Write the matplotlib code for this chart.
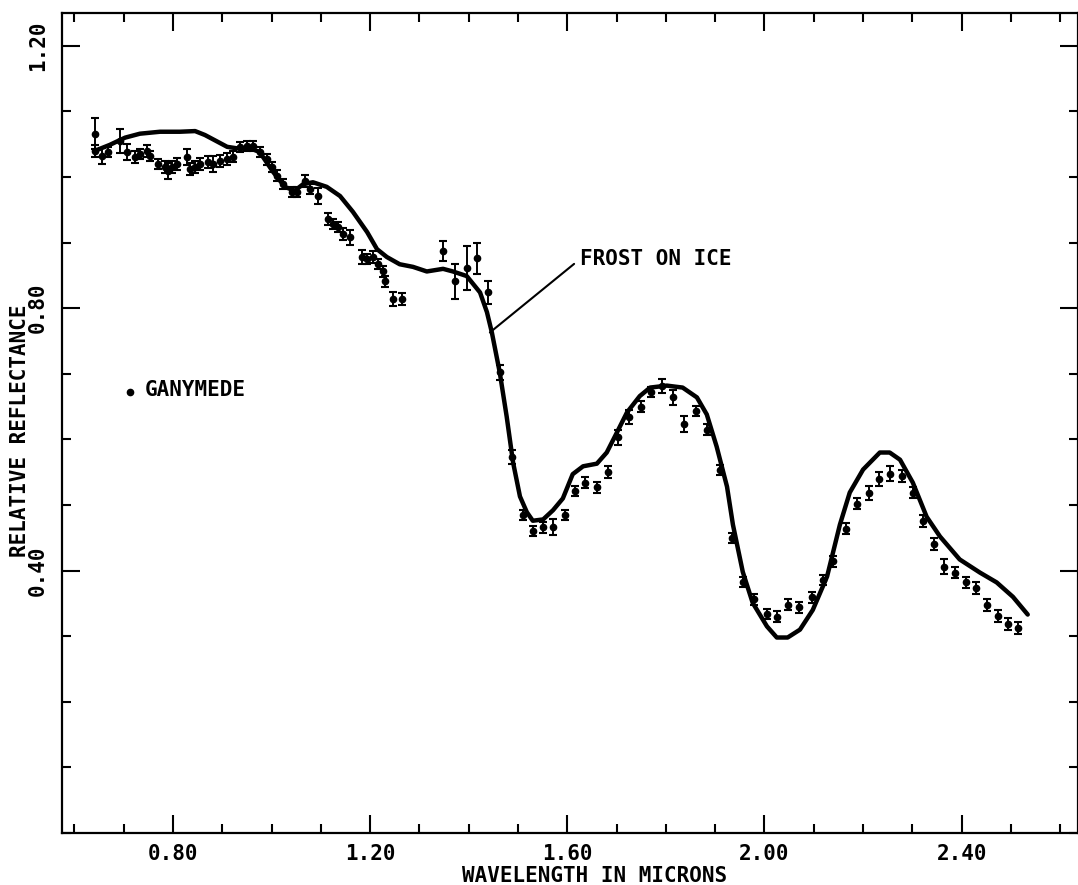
import matplotlib
matplotlib.use("Agg")
import matplotlib.pyplot as plt
from matplotlib.ticker import MultipleLocator, FormatStrFormatter

# ---- Data ----
# Laboratory curve: frost on ice
frost_wl = [0.642, 0.672, 0.703, 0.733, 0.774, 0.814, 0.845, 0.865, 0.885, 0.910,
            0.936, 0.956, 0.976, 1.003, 1.027, 1.047, 1.064, 1.084, 1.112, 1.139,
            1.165, 1.194, 1.214, 1.234, 1.260, 1.287, 1.315, 1.348, 1.368, 1.396,
            1.423, 1.437, 1.447, 1.463, 1.477, 1.490, 1.504, 1.518, 1.530, 1.551,
            1.571, 1.591, 1.611, 1.632, 1.660, 1.680, 1.701, 1.721, 1.747, 1.768,
            1.802, 1.834, 1.863, 1.883, 1.903, 1.924, 1.936, 1.956, 1.976, 2.005,
            2.025, 2.047, 2.072, 2.098, 2.127, 2.153, 2.173, 2.200, 2.234, 2.254,
            2.275, 2.301, 2.329, 2.356, 2.396, 2.437, 2.471, 2.504, 2.534]
frost_refl = [1.040, 1.049, 1.060, 1.066, 1.069, 1.069, 1.070, 1.064, 1.056, 1.046,
              1.043, 1.044, 1.038, 1.008, 0.985, 0.979, 0.989, 0.992, 0.985, 0.971,
              0.947, 0.916, 0.890, 0.878, 0.867, 0.863, 0.856, 0.860, 0.856, 0.849,
              0.824, 0.794, 0.763, 0.702, 0.635, 0.565, 0.513, 0.489, 0.476, 0.478,
              0.492, 0.510, 0.547, 0.559, 0.563, 0.580, 0.611, 0.641, 0.666, 0.679,
              0.682, 0.679, 0.664, 0.638, 0.589, 0.528, 0.470, 0.398, 0.351, 0.315,
              0.298, 0.298, 0.310, 0.340, 0.391, 0.470, 0.519, 0.554, 0.580, 0.580,
              0.569, 0.534, 0.482, 0.452, 0.417, 0.397, 0.382, 0.360, 0.333]

# Ganymede observations with error bars
gan_wl = [0.642, 0.642, 0.656, 0.668, 0.692, 0.707, 0.723, 0.733, 0.747, 0.753,
          0.770, 0.784, 0.790, 0.798, 0.808, 0.828, 0.834, 0.845, 0.855, 0.871,
          0.881, 0.895, 0.910, 0.922, 0.936, 0.950, 0.962, 0.976, 0.991, 1.001,
          1.011, 1.023, 1.041, 1.052, 1.068, 1.078, 1.094, 1.114, 1.125, 1.135,
          1.145, 1.159, 1.183, 1.194, 1.206, 1.216, 1.226, 1.230, 1.246, 1.265,
          1.348, 1.372, 1.396, 1.417, 1.439, 1.463, 1.488, 1.510, 1.530, 1.551,
          1.571, 1.595, 1.615, 1.636, 1.660, 1.682, 1.703, 1.725, 1.749, 1.770,
          1.792, 1.814, 1.837, 1.861, 1.883, 1.910, 1.934, 1.956, 1.978, 2.005,
          2.025, 2.047, 2.070, 2.096, 2.118, 2.139, 2.165, 2.187, 2.212, 2.232,
          2.254, 2.279, 2.301, 2.321, 2.344, 2.364, 2.386, 2.408, 2.429, 2.451,
          2.473, 2.494, 2.514]
gan_refl = [1.066, 1.040, 1.032, 1.038, 1.055, 1.038, 1.031, 1.035, 1.040, 1.032,
            1.020, 1.015, 1.009, 1.015, 1.020, 1.031, 1.012, 1.015, 1.020, 1.023,
            1.020, 1.024, 1.027, 1.031, 1.046, 1.047, 1.047, 1.038, 1.027, 1.015,
            1.002, 0.989, 0.977, 0.977, 0.994, 0.982, 0.971, 0.936, 0.928, 0.924,
            0.913, 0.908, 0.878, 0.875, 0.878, 0.867, 0.856, 0.841, 0.814, 0.814,
            0.887, 0.841, 0.861, 0.876, 0.824, 0.702, 0.573, 0.485, 0.460, 0.466,
            0.466, 0.485, 0.521, 0.534, 0.527, 0.550, 0.603, 0.634, 0.650, 0.672,
            0.681, 0.664, 0.623, 0.643, 0.615, 0.553, 0.450, 0.383, 0.356, 0.334,
            0.330, 0.348, 0.344, 0.359, 0.386, 0.414, 0.464, 0.502, 0.518, 0.540,
            0.548, 0.544, 0.519, 0.475, 0.440, 0.406, 0.397, 0.382, 0.373, 0.347,
            0.331, 0.318, 0.313]
gan_err = [0.024, 0.009, 0.012, 0.008, 0.018, 0.012, 0.009, 0.008, 0.009, 0.008,
           0.008, 0.009, 0.012, 0.009, 0.009, 0.012, 0.009, 0.009, 0.009, 0.009,
           0.012, 0.009, 0.009, 0.008, 0.008, 0.008, 0.008, 0.008, 0.008, 0.008,
           0.008, 0.008, 0.008, 0.008, 0.009, 0.008, 0.012, 0.009, 0.008, 0.008,
           0.009, 0.011, 0.011, 0.008, 0.009, 0.008, 0.008, 0.008, 0.011, 0.009,
           0.015, 0.027, 0.034, 0.024, 0.018, 0.012, 0.011, 0.008, 0.008, 0.008,
           0.012, 0.008, 0.008, 0.008, 0.008, 0.009, 0.011, 0.011, 0.008, 0.008,
           0.011, 0.011, 0.012, 0.008, 0.008, 0.008, 0.008, 0.008, 0.008, 0.008,
           0.008, 0.008, 0.008, 0.009, 0.008, 0.008, 0.008, 0.008, 0.011, 0.011,
           0.011, 0.009, 0.009, 0.009, 0.009, 0.011, 0.009, 0.009, 0.009, 0.009,
           0.009, 0.009, 0.009]

x_major_ticks = [0.80, 1.20, 1.60, 2.00, 2.40]
y_major_ticks = [0.40, 0.80, 1.20]

# ---- Figure ----
FONT = "DejaVu Sans Mono"
plt.rcParams["font.family"] = [FONT, "DejaVu Sans"]
FS = 15
FW = "bold"

fig = plt.figure(figsize=(10.78, 8.85), dpi=100)
ax = fig.add_axes([62 / 1078, 1 - 833 / 885, 1 - 62 / 1078, (833 - 13) / 885])

ax.plot(frost_wl, frost_refl, color="black", lw=3.2, solid_joinstyle="round",
        solid_capstyle="round", zorder=3)
ax.errorbar(gan_wl, gan_refl, yerr=gan_err, fmt="o", color="black",
            markersize=4.5, elinewidth=1.4, capsize=3, capthick=1.5, zorder=4)

ax.set_xlim(0.575, 2.636)
ax.set_ylim(0.0, 1.25)

ax.set_xticks(x_major_ticks)
ax.set_yticks(y_major_ticks)
ax.xaxis.set_minor_locator(MultipleLocator(0.1))
ax.yaxis.set_minor_locator(MultipleLocator(0.1))
ax.xaxis.set_major_formatter(FormatStrFormatter("%.2f"))
ax.yaxis.set_major_formatter(FormatStrFormatter("%.2f"))

ax.tick_params(which="both", direction="in", top=True, right=True,
               width=1.5, color="black")
ax.tick_params(which="major", length=13)
ax.tick_params(which="minor", length=6.5)
ax.tick_params(axis="x", which="major", labelsize=FS, pad=8)
ax.tick_params(axis="y", which="major", labelsize=FS, pad=10, labelrotation=90)
for lab in ax.get_yticklabels() + ax.get_xticklabels():
    lab.set_fontweight(FW)
for lab in ax.get_yticklabels():
    lab.set_va("center")

for sp in ax.spines.values():
    sp.set_linewidth(1.6)

ax.set_xlabel("WAVELENGTH IN MICRONS", fontsize=FS, fontweight=FW)
ax.xaxis.set_label_coords((595 - 62) / 1016, (833 - 866) / 820)
ax.set_ylabel("RELATIVE REFLECTANCE", fontsize=FS, fontweight=FW)
ax.yaxis.label.set_va("center")
ax.yaxis.set_label_coords((20 - 62) / 1016, 0.49)

# annotations
ax.annotate("FROST ON ICE", xy=(1.443, 0.763), xytext=(1.626, 0.875),
            fontsize=FS, fontweight=FW, ha="left", va="center",
            arrowprops=dict(arrowstyle="-", lw=1.5, color="black",
                            relpos=(0.0, 0.5), shrinkA=3, shrinkB=0))
ax.plot([0.713], [0.672], "o", color="black", markersize=4.5)
ax.text(0.743, 0.676, "GANYMEDE", fontsize=FS, fontweight=FW,
        ha="left", va="center")

fig.savefig("out.png", dpi=100)
